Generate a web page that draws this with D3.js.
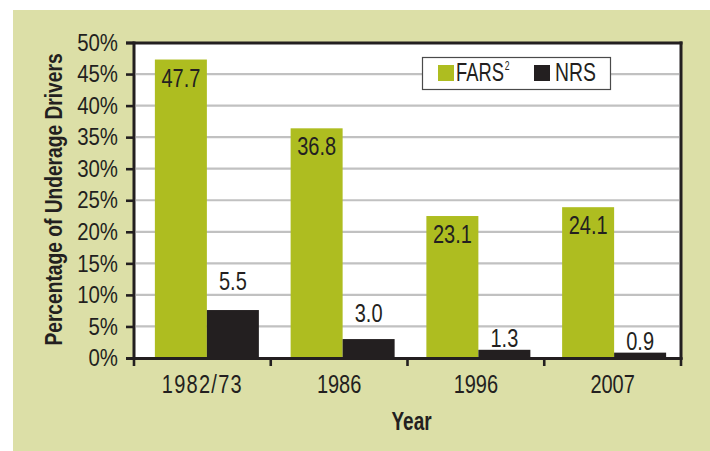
<!DOCTYPE html>
<html><head><meta charset="utf-8">
<script src="https://cdn.jsdelivr.net/npm/d3@7"></script>
<style>
body{margin:0;background:#fff}
text{font-family:"Liberation Sans",Arial,sans-serif;fill:#231f20;transform-box:fill-box}
</style>
</head><body>
<svg id="c" width="710" height="451"></svg>
<script>
const years = ["1982/73", "1986", "1996", "2007"];
const farsValues = [47.3, 36.4, 22.5, 23.9];
const nrsValues = [7.6, 3.0, 1.3, 0.85];
const farsLabels = ["47.7", "36.8", "23.1", "24.1"];
const nrsLabels = ["5.5", "3.0", "1.3", "0.9"];
const yTicks = [0, 5, 10, 15, 20, 25, 30, 35, 40, 45, 50];
const seriesNames = ["FARS", "NRS"];

const GREEN = "#aebd20", DARK = "#231f20", BG = "#dcdfa7";
const L = 134, R = 681, T = 42.5, B = 358;

// condensed look: horizontal squeeze around an anchor
function cond(sel, s, origin) {
  sel.style("transform", `scaleX(${s})`).style("transform-origin", origin);
}

const svg = d3.select("#c");
svg.append("rect").attr("x", 13).attr("y", 10).attr("width", 697).attr("height", 441).attr("fill", BG);
svg.append("rect").attr("x", L).attr("y", T).attr("width", R - L).attr("height", B - T).attr("fill", "#fff");

const y = d3.scaleLinear().domain([0, 50]).range([B, T]);
const xAxisScale = d3.scaleBand().domain(years).range([L, R]);
const xBar = d3.scaleBand().domain(years).range([139, 682]);
const barW = 52;

// grid
svg.append("g").selectAll("line").data(yTicks.filter(d => d > 0 && d < 50)).join("line")
  .attr("x1", L + 2).attr("x2", R - 2)
  .attr("y1", d => y(d)).attr("y2", d => y(d))
  .attr("stroke", "#c1c1c1").attr("stroke-width", 2.2);

// bars
const cx = d => xBar(d) + xBar.bandwidth() / 2;
svg.append("g").selectAll("rect").data(years).join("rect")
  .attr("x", d => cx(d) - barW).attr("width", barW)
  .attr("y", (d, i) => y(farsValues[i])).attr("height", (d, i) => B - y(farsValues[i]))
  .attr("fill", GREEN);
svg.append("g").selectAll("rect").data(years).join("rect")
  .attr("x", d => cx(d)).attr("width", barW)
  .attr("y", (d, i) => y(nrsValues[i])).attr("height", (d, i) => B - y(nrsValues[i]))
  .attr("fill", DARK);

// value labels
svg.append("g").selectAll("text").data(years).join("text")
  .attr("x", d => cx(d) - barW / 2).attr("y", (d, i) => y(farsValues[i]) + 27)
  .attr("text-anchor", "middle").attr("font-size", 25).text((d, i) => farsLabels[i])
  .call(cond, 0.8, "center");
svg.append("g").selectAll("text").data(years).join("text")
  .attr("x", d => cx(d) + barW / 2)
  .attr("y", (d, i) => {
    const v = nrsValues[i];
    return v >= 2.5 ? y(Math.ceil(v / 5) * 5) - 4.6 : y(v) - 2.5;
  })
  .attr("text-anchor", "middle").attr("font-size", 25).text((d, i) => nrsLabels[i])
  .call(cond, 0.8, "center");

// left axis
const ya = svg.append("g").attr("transform", `translate(${L},0)`)
  .call(d3.axisLeft(y).tickValues(yTicks).tickFormat(d => d + "%").tickSize(8).tickPadding(8).tickSizeOuter(0));
ya.select(".domain").remove();
ya.selectAll(".tick line").attr("stroke", DARK).attr("stroke-width", 2.6);
ya.selectAll(".tick text").attr("font-size", 24).attr("font-family", null).attr("fill", DARK)
  .call(cond, 0.85, "right center");

// bottom axis labels
const xa = svg.append("g").attr("transform", `translate(0,${B})`)
  .call(d3.axisBottom(xAxisScale).tickSize(0).tickPadding(17.5));
xa.select(".domain").remove();
xa.selectAll(".tick text").attr("font-size", 25).attr("font-family", null).attr("fill", DARK)
  .attr("letter-spacing", d => d.includes("/") ? 1.6 : 0)
  .call(cond, 0.8, "center");

// bottom ticks at band boundaries
const bounds = years.map(d => xAxisScale(d)).concat([R]);
svg.append("g").selectAll("line").data(bounds).join("line")
  .attr("x1", d => d).attr("x2", d => d).attr("y1", B).attr("y2", B + 8)
  .attr("stroke", DARK).attr("stroke-width", 2.6);

// frame
const fr = svg.append("g").attr("stroke", DARK).attr("stroke-width", 3).attr("fill", "none");
fr.append("line").attr("x1", L - 8).attr("x2", R + 1.5).attr("y1", T + 0.5).attr("y2", T + 0.5);
fr.append("line").attr("x1", R).attr("x2", R).attr("y1", T - 1).attr("y2", B + 1.5);
fr.append("line").attr("x1", L).attr("x2", L).attr("y1", T - 1).attr("y2", B + 1.5);
fr.append("line").attr("x1", L - 8).attr("x2", R + 1.5).attr("y1", B + 0.5).attr("y2", B + 0.5);

// legend
const lg = svg.append("g");
lg.append("rect").attr("x", 422.5).attr("y", 57.5).attr("width", 188).attr("height", 32)
  .attr("fill", "#fff").attr("stroke", "#4a4a4a").attr("stroke-width", 1.2);
lg.append("rect").attr("x", 438).attr("y", 65).attr("width", 16).attr("height", 16).attr("fill", GREEN);
const t1 = lg.append("text").attr("x", 456).attr("y", 81.5).attr("font-size", 25.5);
t1.append("tspan").text(seriesNames[0]);
t1.append("tspan").attr("font-size", 12).attr("dy", -11).attr("dx", 1).text("2");
t1.call(cond, 0.72, "left center");
lg.append("rect").attr("x", 534).attr("y", 65).attr("width", 16).attr("height", 16).attr("fill", DARK);
lg.append("text").attr("x", 555).attr("y", 81.5).attr("font-size", 25.5).text(seriesNames[1])
  .call(cond, 0.76, "left center");

// titles
svg.append("g").attr("transform", "translate(61.5,199.5) rotate(-90)")
  .append("text")
  .attr("text-anchor", "middle").attr("font-size", 24).attr("font-weight", "bold")
  .text("Percentage of Underage Drivers")
  .call(cond, 0.8, "center");
svg.append("text").attr("x", 411.5).attr("y", 430).attr("text-anchor", "middle")
  .attr("font-size", 25).attr("font-weight", "bold").text("Year")
  .call(cond, 0.76, "center");
</script>
</body></html>
